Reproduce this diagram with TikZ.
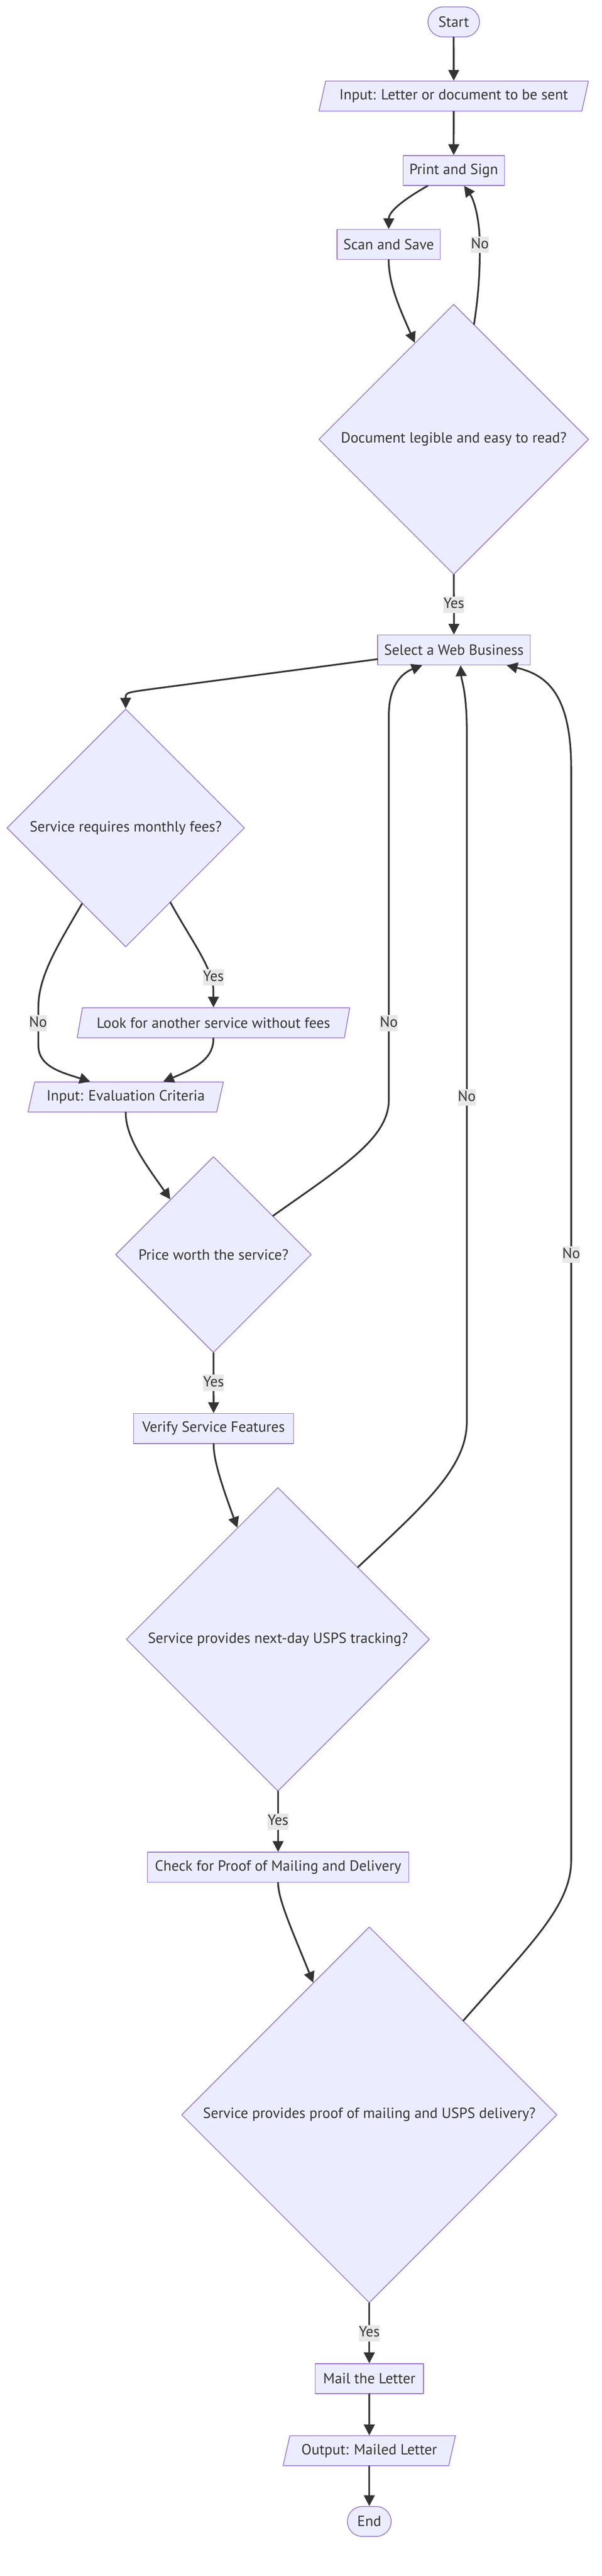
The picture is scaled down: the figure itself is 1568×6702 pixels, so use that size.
\documentclass[tikz,border=0pt]{standalone}
\usepackage{fontspec}
\setmainfont{PT Sans}
\usetikzlibrary{shapes.geometric,arrows.meta,calc,positioning}
\definecolor{nodefill}{HTML}{ECECFF}
\definecolor{nodeline}{HTML}{9370DB}
\definecolor{edgeline}{HTML}{333333}
\definecolor{lblfill}{HTML}{E8E8E8}

\begin{document}
\begin{tikzpicture}[x=0.5pt,y=-0.5pt,line join=round,line cap=round,
  every node/.style={font=\fontsize{19.2}{23}\selectfont,text=edgeline},
  box/.style={draw=nodeline,fill=nodefill,line width=1pt,rectangle,minimum height=39pt,inner sep=0pt},
  term/.style={box,rounded corners=19.5pt},
  io/.style={box,trapezium,trapezium left angle=63.4,trapezium right angle=116.6,trapezium stretches body},
  ask/.style={box,diamond,aspect=1},
  lbl/.style={fill=lblfill,inner xsep=0pt,inner ysep=2pt,text height=13.5pt,text depth=4pt},
  flow/.style={draw=edgeline,line width=2.2pt,-{Triangle[length=14pt,width=14pt]}}]
\useasboundingbox (0,0) rectangle (1568,6702);
\node[term,minimum width=67pt] (start) at (1182,57) {Start};
\node[io,minimum width=351pt] (letter) at (1182,250) {Input: Letter or document to be sent};
\node[box,minimum width=132pt] (print) at (1182,443.5) {Print and Sign};
\node[box,minimum width=134.5pt] (scan) at (1012.5,636) {Scan and Save};
\node[ask,minimum width=351.5pt,minimum height=351.5pt] (legible) at (1182,1143) {Document legible and easy to read?};
\node[box,minimum width=198.5pt] (select) at (1182.5,1691) {Select a Web Business};
\node[ask,minimum width=309.5pt,minimum height=309.5pt] (fees) at (327.5,2154) {Service requires monthly fees?};
\node[io,minimum width=355pt] (other) at (556,2661) {Look for another service without fees};
\node[io,minimum width=254.5pt] (criteria) at (327.5,2854) {Input: Evaluation Criteria};
\node[ask,minimum width=255pt,minimum height=255pt] (price) at (556,3264) {Price worth the service?};
\node[box,minimum width=208.5pt] (verify) at (556.5,3716.5) {Verify Service Features};
\node[ask,minimum width=395pt,minimum height=395pt] (tracking) at (724,4265) {Service provides next-day USPS tracking?};
\node[box,minimum width=340.5pt] (check) at (724.5,4858) {Check for Proof of Mailing and Delivery};
\node[ask,minimum width=489pt,minimum height=489pt] (proof) at (962,5502) {Service provides proof of mailing and USPS delivery?};
\node[box,minimum width=141pt] (mail) at (962,6188.5) {Mail the Letter};
\node[io,minimum width=224.5pt] (mailed) at (962,6376) {Output: Mailed Letter};
\node[term,minimum width=57pt] (end) at (962,6560) {End};

\foreach \a/\b in {start/letter,letter/print,mail/mailed,mailed/end}{\draw[flow](\a)--(\b);}
\foreach \a/\b in {legible/select,price/verify,tracking/check,proof/mail}{\draw[flow](\a)--(\b) node[lbl,midway](yes\a){Yes};}

\draw[flow] ($(print.south)+(-68,0)$) .. controls (1050,520) and (1013,550) .. (scan.north);
\draw[flow] (scan.south) .. controls (1013,740) and (1040,800) .. (legible.112);
\draw[flow] (legible.80) .. controls (1248,760) and (1250,700) .. (1250,640) .. controls (1250,570) and (1235,520) .. ($(print.south)+(27,0)$);
\draw[flow] ($(select.west)+(0,24)$) -- (400,1792) .. controls (327,1802) .. (fees.north);
\draw[flow] (fees.240) .. controls (150,2460) and (100,2540) .. (100,2620) -- (100,2720) .. controls (100,2775) and (160,2790) .. ($(criteria.north)+(-92.5,0)$);
\draw[flow] (fees.-59) .. controls (500,2450) and (556,2520) .. (556,2580) -- (other.north);
\draw[flow] (other.south) .. controls (556,2750) and (520,2775) .. ($(criteria.north)+(97.5,0)$);
\draw[flow] (criteria.south) .. controls (327,2960) and (380,3030) .. (price.128);
\draw[flow] (price.33) .. controls (900,3030) and (1013,2960) .. (1013,2860) -- (1013,1860) .. controls (1013,1780) and (1050,1750) .. ($(select.south)+(-82.5,0)$);
\draw[flow] (verify.south) .. controls (556,3800) and (580,3870) .. (tracking.110);
\draw[flow] (tracking.42) .. controls (1100,3920) and (1216,3820) .. (1216,3700) -- (1216,1900) .. controls (1216,1800) and (1202,1770) .. ($(select.south)+(17.5,0)$);
\draw[flow] (check.south) .. controls (724,4940) and (760,5020) .. (proof.113);
\draw[flow] (proof.45) .. controls (1380,5060) and (1488,4960) .. (1488,4840) -- (1488,2000) .. controls (1488,1800) and (1420,1755) .. ($(select.south)+(137.5,0)$);

\node[lbl] (noA) at (1250,637) {No};
\node[lbl] (yesB) at (556,2543) {Yes};
\node[lbl] (noB) at (99,2662) {No};
\node[lbl] (noC) at (1013,2662) {No};
\node[lbl] (noD) at (1216,2855) {No};
\node[lbl] (noE) at (1488,3264) {No};
\end{tikzpicture}
\end{document}
